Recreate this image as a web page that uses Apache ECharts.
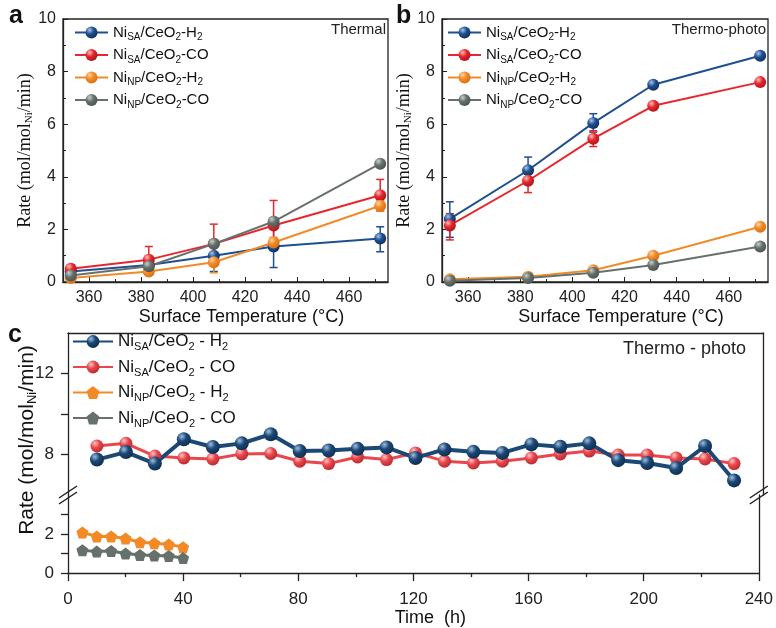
<!DOCTYPE html>
<html><head><meta charset="utf-8">
<script src="https://cdn.jsdelivr.net/npm/echarts@6/dist/echarts.min.js"></script>
<style>html,body{margin:0;padding:0;background:#fff}#c{width:776px;height:628px}</style>
</head><body><div id="c"></div>
<script>
// ---------- data ----------
const tempX = [353, 383, 408, 431, 472];
// panel a (Thermal)
const aSA_H2 = [0.4, 0.65, 1.0, 1.35, 1.65];
const aSA_CO = [0.5, 0.85, 1.45, 2.15, 3.3];
const aNP_H2 = [0.15, 0.4, 0.75, 1.5, 2.9];
const aNP_CO = [0.25, 0.6, 1.45, 2.3, 4.5];
const aSA_H2_lo = [0.3, 0.5, 0.4, 0.55, 1.15];
const aSA_H2_hi = [0.55, 0.85, 1.5, 2.1, 2.1];
const aSA_CO_lo = [0.35, 0.55, 0.9, 1.2, 2.7];
const aSA_CO_hi = [0.65, 1.35, 2.2, 3.1, 3.9];
const aNP_H2_lo = [0.1, 0.3, 0.35, 1.3, 2.7];
const aNP_H2_hi = [0.2, 0.5, 1.1, 1.7, 3.1];
// panel b (Thermo-photo)
const bSA_H2 = [2.4, 4.25, 6.05, 7.5, 8.6];
const bSA_CO = [2.15, 3.85, 5.45, 6.7, 7.6];
const bNP_H2 = [0.1, 0.2, 0.45, 1.0, 2.1];
const bNP_CO = [0.05, 0.15, 0.35, 0.65, 1.35];
const bSA_H2_lo = [1.7, 3.9, 5.7, 7.4, 8.5];
const bSA_H2_hi = [3.05, 4.75, 6.4, 7.6, 8.7];
const bSA_CO_lo = [1.6, 3.4, 5.15, 6.6, 7.5];
const bSA_CO_hi = [2.6, 4.3, 5.75, 6.8, 7.7];
// panel c (stability)
const timeSA = [10,20,30,40,50,60,70,80,90,100,110,120,130,140,150,160,170,180,190,200,210,220,230];
const cSA_H2 = [7.75,8.12,7.55,8.75,8.37,8.55,9.0,8.17,8.2,8.28,8.35,7.83,8.25,8.13,8.08,8.5,8.38,8.55,7.72,7.58,7.33,8.42,6.72];
const cSA_CO = [8.42,8.55,7.92,7.83,7.78,8.03,8.05,7.67,7.55,7.88,7.75,8.08,7.67,7.58,7.67,7.83,8.03,8.17,7.97,7.97,7.83,7.78,7.55];
const timeNP = [5,10,15,20,25,30,35,40];
const cNP_H2 = [2.08,1.88,1.88,1.77,1.58,1.53,1.47,1.33];
const cNP_CO = [1.17,1.1,1.13,1.0,0.93,0.9,0.88,0.77];
// ticks
const abXLabels = [360,380,400,420,440,460];
const abXMinor = [370,390,410,430,450,470];
const cYUpperLabels = [8,12];
const cYUpperTicks = [8,10,12];
const cYLowerLabels = [0,2];
const cYLowerTicks = [0,1,2,3];

// ---------- styling helpers ----------
const zip = (xs, ys) => xs.map((x, i) => [x, ys[i]]);
const zip3 = (xs, lo, hi) => xs.map((x, i) => [x, lo[i], hi[i]]);
function ball(base, light, dark) {
  return {type:'radial', x:0.35, y:0.3, r:0.75,
    colorStops:[{offset:0,color:light},{offset:0.45,color:base},{offset:1,color:dark}]};
}
const C = {
  blue:'#1f4f91', red:'#e8262d', orange:'#f28a28', gray:'#67716c',
  cblue:'#1b4876', cred:'#e9474d'
};
const pent = 'path://M10,0 L19.51,6.91 L15.88,18.09 L4.12,18.09 L0.49,6.91 Z';

const legendNames = {
  'a1':'{n|Ni}{s|SA}{n|/CeO}{s|2}{n|-H}{s|2}',
  'a2':'{n|Ni}{s|SA}{n|/CeO}{s|2}{n|-CO}',
  'a3':'{n|Ni}{s|NP}{n|/CeO}{s|2}{n|-H}{s|2}',
  'a4':'{n|Ni}{s|NP}{n|/CeO}{s|2}{n|-CO}',
  'b1':'{n|Ni}{s|SA}{n|/CeO}{s|2}{n|-H}{s|2}',
  'b2':'{n|Ni}{s|SA}{n|/CeO}{s|2}{n|-CO}',
  'b3':'{n|Ni}{s|NP}{n|/CeO}{s|2}{n|-H}{s|2}',
  'b4':'{n|Ni}{s|NP}{n|/CeO}{s|2}{n|-CO}',
  'c1':'{n|Ni}{s|SA}{n|/CeO}{s|2}{n| - H}{s|2}',
  'c2':'{n|Ni}{s|SA}{n|/CeO}{s|2}{n| - CO}',
  'c3':'{n|Ni}{s|NP}{n|/CeO}{s|2}{n| - H}{s|2}',
  'c4':'{n|Ni}{s|NP}{n|/CeO}{s|2}{n| - CO}'
};

function lineSeries(name, xi, yi, data, color, fill, opts) {
  return Object.assign({
    name, type:'line', xAxisIndex:xi, yAxisIndex:yi, data,
    symbol:'circle', symbolSize:12, showSymbol:true,
    lineStyle:{color, width:2}, itemStyle:{color:fill, borderWidth:0},
    z:3, animation:false
  }, opts||{});
}
function errSeries(xi, yi, data, color) {
  return {
    type:'custom', xAxisIndex:xi, yAxisIndex:yi, data, z:2, animation:false,
    renderItem(params, api) {
      const x = api.value(0);
      const lo = api.coord([x, api.value(1)]);
      const hi = api.coord([x, api.value(2)]);
      const w = 4;
      const st = {stroke:color, lineWidth:1.5};
      return {type:'group', children:[
        {type:'line', shape:{x1:lo[0], y1:lo[1], x2:hi[0], y2:hi[1]}, style:st},
        {type:'line', shape:{x1:lo[0]-w, y1:lo[1], x2:lo[0]+w, y2:lo[1]}, style:st},
        {type:'line', shape:{x1:hi[0]-w, y1:hi[1], x2:hi[0]+w, y2:hi[1]}, style:st}
      ]};
    }
  };
}

const fills = {
  blue: ball(C.blue, '#a9c3e6', '#0f2f5c'),
  red: ball(C.red, '#ffc0c0', '#a8151a'),
  orange: ball(C.orange, '#ffd3a0', '#d96f10'),
  gray: ball(C.gray, '#c9cfcc', '#4a524e'),
  cblue: ball(C.cblue, '#9fbde0', '#0e2c4d'),
  cred: ball(C.cred, '#ffc4c4', '#b52a30')
};

const axisTxt = {color:'#222', fontFamily:'Liberation Sans, Arial, sans-serif'};

function abX(gi, main) {
  if (main) return {
    type:'value', gridIndex:gi, min:350, max:475, position:'bottom',
    axisLine:{show:true, onZero:false, lineStyle:{color:'#222', width:1.3}},
    axisTick:{show:true, inside:true, length:5, customValues:abXLabels, lineStyle:{color:'#222'}},
    axisLabel:{show:true, customValues:abXLabels, fontSize:16, margin:8, ...axisTxt},
    splitLine:{show:false},
    name:'Surface Temperature (°C)', nameLocation:'middle', nameGap:26,
    nameTextStyle:{fontSize:18, color:'#111', fontFamily:'Liberation Sans, Arial, sans-serif', padding:[0,0,0,32]}
  };
  return {
    type:'value', gridIndex:gi, min:350, max:475, position:'bottom',
    axisLine:{show:false}, axisLabel:{show:false}, splitLine:{show:false},
    axisTick:{show:true, inside:true, length:3, customValues:abXMinor, lineStyle:{color:'#222'}}
  };
}
function abY(gi) {
  return {
    type:'value', gridIndex:gi, min:0, max:10, interval:2, position:'left',
    axisLine:{show:true, lineStyle:{color:'#222', width:1.3}},
    axisTick:{show:true, inside:true, length:5, lineStyle:{color:'#222'}},
    minorTick:{show:true, splitNumber:2, length:3, lineStyle:{color:'#222'}},
    axisLabel:{fontSize:16, margin:7, ...axisTxt},
    splitLine:{show:false},
    name:'Rate (mol/mol{s|Ni}/min)', nameLocation:'middle', nameGap:22, nameRotate:90,
    nameTextStyle:{fontSize:18, color:'#111', fontFamily:'Liberation Serif, Times New Roman, serif',
      rich:{s:{fontSize:11, fontFamily:'Liberation Serif, Times New Roman, serif', color:'#111', padding:[8,0,0,0]}}}
  };
}
function legendAt(left, top, names, fs, sfs, iw, ih, gap, sp) {
  return {
    orient:'vertical', left, top, data:names, itemWidth:iw, itemHeight:ih, itemGap:gap,
    selectedMode:false, padding:0,
    formatter:(n) => legendNames[n],
    textStyle:{fontSize:fs, color:'#111', fontFamily:'Liberation Sans, Arial, sans-serif',
      rich:{n:{fontSize:fs, color:'#111', fontFamily:'Liberation Sans, Arial, sans-serif'},
            s:{fontSize:sfs, color:'#111', fontFamily:'Liberation Sans, Arial, sans-serif', padding:[sp,0,0,0]}}}
  };
}

const gC = {left:68, top:333, width:695, hUp:162, hLo:81};

const option = {
  backgroundColor:'#fff',
  animation:false,
  grid:[
    {left:63, top:19, width:325, height:263, show:true, borderColor:'#222', borderWidth:1.3},
    {left:442, top:19, width:326, height:263, show:true, borderColor:'#222', borderWidth:1.3},
    {left:gC.left, top:gC.top, width:gC.width, height:gC.hUp},
    {left:gC.left, top:gC.top+gC.hUp, width:gC.width, height:gC.hLo}
  ],
  xAxis:[
    abX(0,true), abX(0,false), abX(1,true), abX(1,false),
    {type:'value', gridIndex:2, min:0, max:240, position:'top',
      axisLine:{show:true, onZero:false, lineStyle:{color:'#222', width:1.3}},
      axisTick:{show:false}, axisLabel:{show:false}, splitLine:{show:false}},
    {type:'value', gridIndex:3, min:0, max:240, interval:40, position:'bottom',
      axisLine:{show:true, onZero:false, lineStyle:{color:'#222', width:1.3}},
      axisTick:{show:true, inside:false, length:8, lineStyle:{color:'#222', width:1.3}},
      minorTick:{show:true, splitNumber:2, length:4, lineStyle:{color:'#222', width:1.3}},
      axisLabel:{fontSize:17, margin:18, ...axisTxt}, splitLine:{show:false},
      name:'Time  (h)', nameLocation:'middle', nameGap:34,
      nameTextStyle:{fontSize:18, color:'#111', fontFamily:'Liberation Sans, Arial, sans-serif', padding:[0,0,0,34]}}
  ],
  yAxis:[
    abY(0), abY(1),
    {type:'value', gridIndex:2, min:6, max:14, position:'left',
      axisLine:{show:true, lineStyle:{color:'#222', width:1.3}},
      axisTick:{show:true, inside:false, length:7, customValues:cYUpperTicks, lineStyle:{color:'#222', width:1.3}},
      axisLabel:{fontSize:17, margin:14, customValues:cYUpperLabels, ...axisTxt}, splitLine:{show:false}},
    {type:'value', gridIndex:3, min:0, max:4, position:'left',
      axisLine:{show:true, lineStyle:{color:'#222', width:1.3}},
      axisTick:{show:true, inside:false, length:7, customValues:cYLowerTicks, lineStyle:{color:'#222', width:1.3}},
      axisLabel:{fontSize:17, margin:14, customValues:cYLowerLabels, ...axisTxt}, splitLine:{show:false}},
    {type:'value', gridIndex:2, min:6, max:14, position:'right',
      axisLine:{show:true, lineStyle:{color:'#222', width:1.3}},
      axisTick:{show:false}, axisLabel:{show:false}, splitLine:{show:false}},
    {type:'value', gridIndex:3, min:0, max:4, position:'right',
      axisLine:{show:true, lineStyle:{color:'#222', width:1.3}},
      axisTick:{show:false}, axisLabel:{show:false}, splitLine:{show:false}}
  ],
  legend:[
    legendAt(74, 25, ['a1','a2','a3','a4'], 15, 10, 33, 15, 5, 10),
    legendAt(447, 25, ['b1','b2','b3','b4'], 15, 10, 33, 15, 5, 10),
    legendAt(72, 333, ['c1','c2','c3','c4'], 17, 11, 40, 16, 6, 11)
  ],
  series:[
    errSeries(0,0, zip3(tempX, aSA_H2_lo, aSA_H2_hi), C.blue),
    errSeries(0,0, zip3(tempX, aSA_CO_lo, aSA_CO_hi), C.red),
    errSeries(0,0, zip3(tempX, aNP_H2_lo, aNP_H2_hi), C.orange),
    lineSeries('a1',0,0, zip(tempX,aSA_H2), C.blue, fills.blue),
    lineSeries('a2',0,0, zip(tempX,aSA_CO), C.red, fills.red),
    lineSeries('a3',0,0, zip(tempX,aNP_H2), C.orange, fills.orange),
    lineSeries('a4',0,0, zip(tempX,aNP_CO), C.gray, fills.gray),
    errSeries(2,1, zip3(tempX, bSA_H2_lo, bSA_H2_hi), C.blue),
    errSeries(2,1, zip3(tempX, bSA_CO_lo, bSA_CO_hi), C.red),
    lineSeries('b1',2,1, zip(tempX,bSA_H2), C.blue, fills.blue),
    lineSeries('b2',2,1, zip(tempX,bSA_CO), C.red, fills.red),
    lineSeries('b3',2,1, zip(tempX,bNP_H2), C.orange, fills.orange),
    lineSeries('b4',2,1, zip(tempX,bNP_CO), C.gray, fills.gray),
    lineSeries('c2',4,2, zip(timeSA,cSA_CO), C.cred, fills.cred, {lineStyle:{color:C.cred, width:3}, symbolSize:13}),
    lineSeries('c1',4,2, zip(timeSA,cSA_H2), C.cblue, fills.cblue, {lineStyle:{color:C.cblue, width:4}, symbolSize:14}),
    lineSeries('c3',5,3, zip(timeNP,cNP_H2), C.orange, C.orange, {symbol:pent, symbolSize:12, lineStyle:{color:C.orange, width:3}}),
    lineSeries('c4',5,3, zip(timeNP,cNP_CO), C.gray, C.gray, {symbol:pent, symbolSize:12, lineStyle:{color:C.gray, width:3}})
  ],
  graphic:[
    {type:'text', left:9, top:4, style:{text:'a', font:'bold 25px Liberation Sans, Arial, sans-serif', fill:'#111'}},
    {type:'text', left:396, top:4, style:{text:'b', font:'bold 25px Liberation Sans, Arial, sans-serif', fill:'#111'}},
    {type:'text', left:8, top:323, style:{text:'c', font:'bold 25px Liberation Sans, Arial, sans-serif', fill:'#111'}},
    {type:'text', x:386, y:30, style:{text:'Thermal', font:'15px Liberation Sans, Arial, sans-serif', fill:'#222', align:'right', verticalAlign:'middle'}},
    {type:'text', x:766, y:30, style:{text:'Thermo-photo', font:'15px Liberation Sans, Arial, sans-serif', fill:'#222', align:'right', verticalAlign:'middle'}},
    {type:'text', x:746, y:349, style:{text:'Thermo - photo', font:'18px Liberation Sans, Arial, sans-serif', fill:'#222', align:'right', verticalAlign:'middle'}},
    {type:'text', x:27, y:440, rotation:Math.PI/2,
      style:{text:'Rate (mol/mol{s|Ni}/min)', font:'21px Liberation Sans, Arial, sans-serif', fill:'#111', align:'center', verticalAlign:'middle',
        rich:{s:{fontSize:13, fontFamily:'Liberation Sans, Arial, sans-serif', fill:'#111', padding:[11,0,0,0]}}}}
  ]
};

const chart = echarts.init(document.getElementById('c'), null, {renderer:'canvas'});
chart.setOption(option);

// axis-break marks at the junction of the two y ranges (layout decoration)
function breakMark(x, y) {
  const dx = 9, dy = 6, off = 3;
  return {type:'group', x, y, z:100, children:[
    {type:'polygon', shape:{points:[[-dx,dy-off],[dx,-dy-off],[dx,-dy+off],[-dx,dy+off]]}, style:{fill:'#fff'}},
    {type:'line', shape:{x1:-dx, y1:dy-off, x2:dx, y2:-dy-off}, style:{stroke:'#222', lineWidth:1.5}},
    {type:'line', shape:{x1:-dx, y1:dy+off, x2:dx, y2:-dy+off}, style:{stroke:'#222', lineWidth:1.5}}
  ]};
}
const pL = chart.convertToPixel({xAxisIndex:5, yAxisIndex:3}, [0, 4]);
const pR = chart.convertToPixel({xAxisIndex:5, yAxisIndex:3}, [240, 4]);
chart.setOption({graphic: option.graphic.concat([breakMark(pL[0], pL[1]), breakMark(pR[0], pR[1])])});
</script></body></html>
